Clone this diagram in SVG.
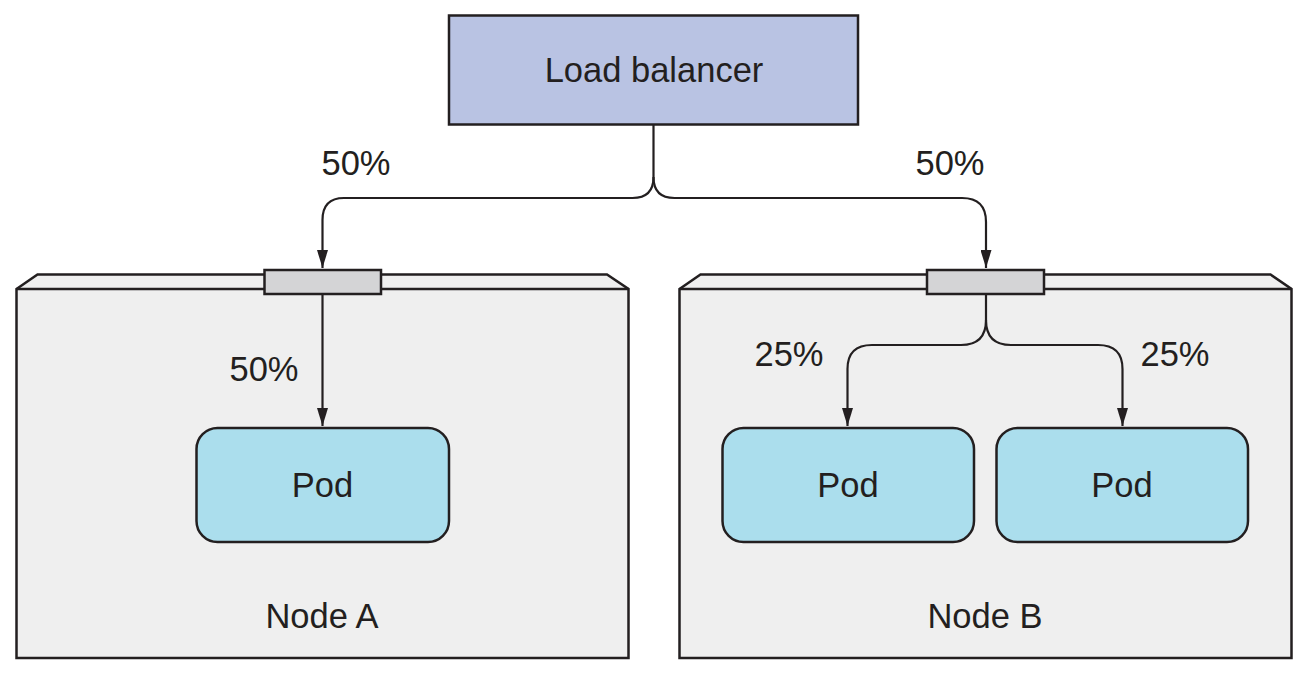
<svg xmlns="http://www.w3.org/2000/svg" width="1309" height="675" viewBox="0 0 1309 675">
  <style>
    .box { stroke: #231f20; stroke-width: 2.5; stroke-linejoin: miter; }
    .lb { fill: #b9c3e3; }
    .node { fill: #efefef; }
    .port { fill: #d4d4d6; }
    .pod { fill: #abdeed; }
    .wire { fill: none; stroke: #231f20; stroke-width: 2.2; marker-end: url(#arrow); }
    text { font-family: "Liberation Sans", Arial, sans-serif; font-size: 34.5px; fill: #231f20; text-anchor: middle; }
  </style>
  <defs>
    <marker id="arrow" markerUnits="userSpaceOnUse" markerWidth="18" markerHeight="11" refX="18" refY="5.5" orient="auto">
      <path d="M0,0 L18,5.5 L0,11 Z" fill="#231f20"/>
    </marker>
  </defs>
  <rect width="1309" height="675" fill="#ffffff"/>

  <g id="node-a">
    <path class="box node" d="M16.5,289 L37.5,274.5 H607 L628.5,289 V658 H16.5 Z"/>
    <path class="box" fill="none" d="M16.5,289 H628.5"/>
    <text x="322" y="628">Node A</text>
  </g>

  <g id="node-b">
    <path class="box node" d="M679.5,289 L700.5,274.5 H1270.5 L1291.5,289 V658 H679.5 Z"/>
    <path class="box" fill="none" d="M679.5,289 H1291.5"/>
    <text x="985" y="628">Node B</text>
  </g>

  <g id="load-balancer">
    <rect class="box lb" x="449" y="15.5" width="409" height="109"/>
    <text x="654" y="82">Load balancer</text>
  </g>

  <g id="port-a">
    <rect class="box port" x="264.5" y="270" width="116.5" height="24"/>
  </g>
  <g id="port-b">
    <rect class="box port" x="927" y="270" width="117" height="24"/>
  </g>

  <g id="pod-a">
    <rect class="box pod" x="196.5" y="428" width="252.5" height="114" rx="21"/>
    <text x="322.5" y="497">Pod</text>
  </g>
  <g id="pod-b1">
    <rect class="box pod" x="722.5" y="428" width="251.5" height="114" rx="21"/>
    <text x="848" y="497">Pod</text>
  </g>
  <g id="pod-b2">
    <rect class="box pod" x="996.5" y="428" width="251.5" height="114" rx="21"/>
    <text x="1122" y="497">Pod</text>
  </g>

  <g id="connectors">
    <path class="wire" d="M653.5,124 V177 Q653.5,198 632.5,198 H344 Q322.5,198 322.5,220 V268"/>
    <path class="wire" d="M653.5,177 Q653.5,198 674.5,198 H962 Q986,198 986,222 V268"/>
    <path class="wire" d="M322.5,294 V426"/>
    <path class="wire" d="M986,294 V320 Q986,345 961,345 H872 Q847.5,345 847.5,369 V426"/>
    <path class="wire" d="M986,320 Q986,345 1011,345 H1098 Q1122.5,345 1122.5,369 V426"/>
  </g>

  <g id="labels">
    <text x="356" y="175">50%</text>
    <text x="950" y="175">50%</text>
    <text x="264" y="381">50%</text>
    <text x="789" y="366">25%</text>
    <text x="1175" y="366">25%</text>
  </g>
</svg>
